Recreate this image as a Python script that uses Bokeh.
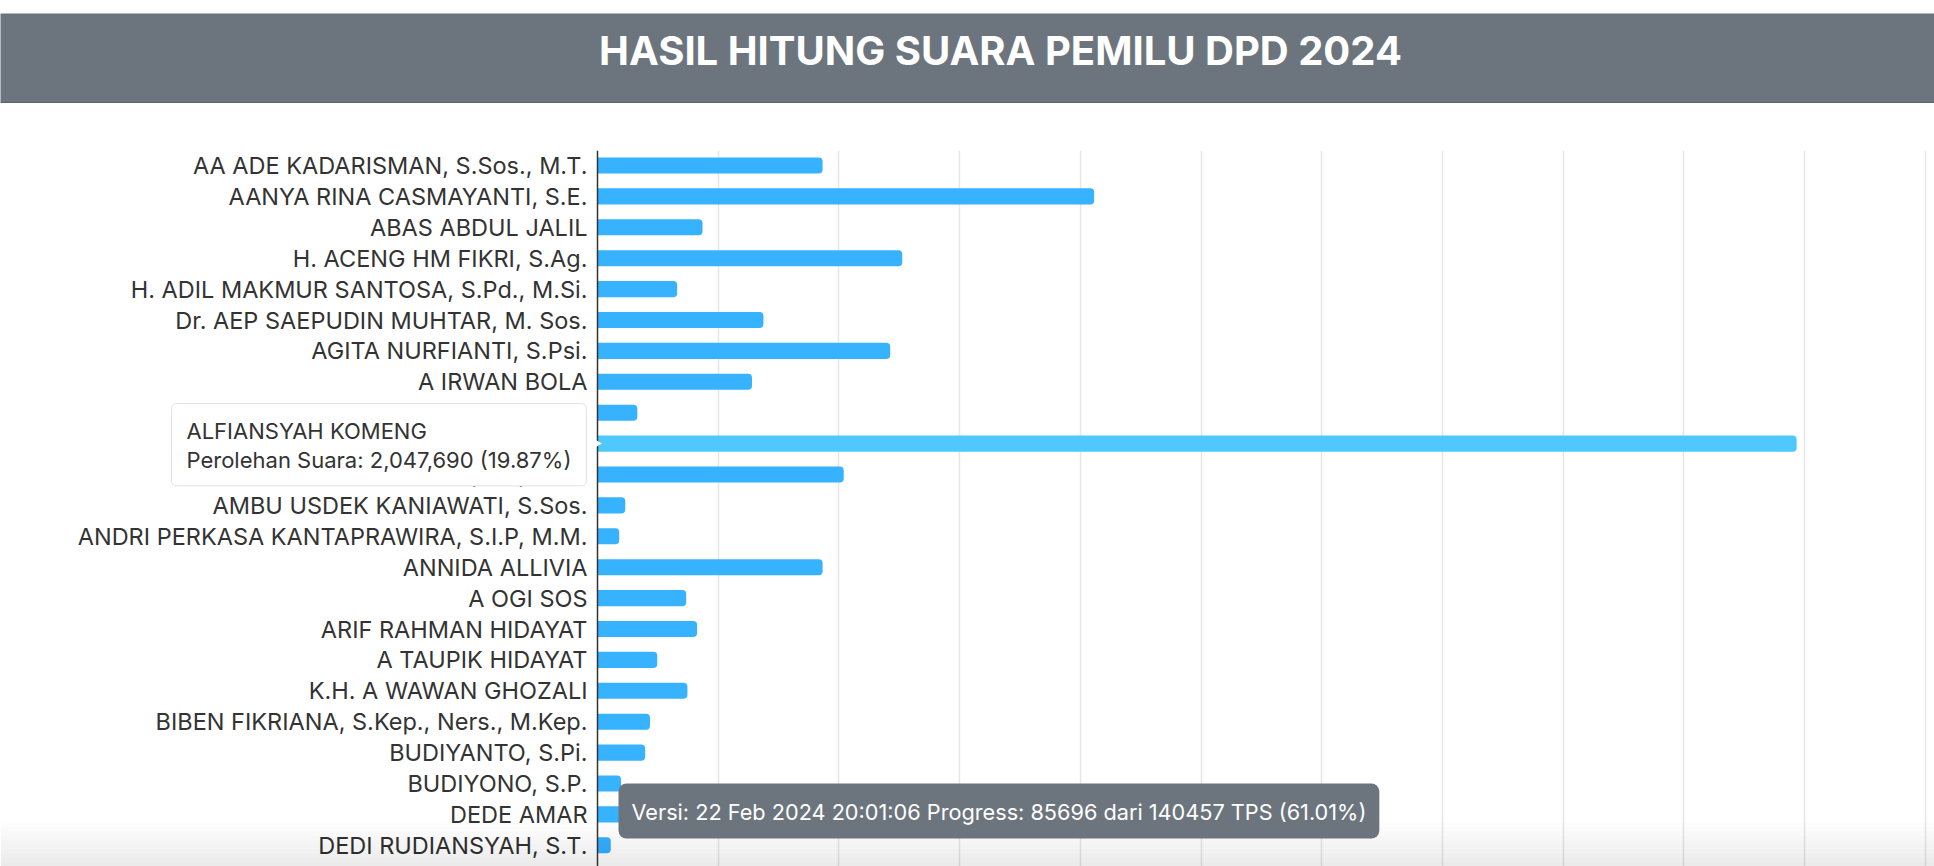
from bokeh.plotting import figure
from bokeh.models import Range1d, FixedTicker, Label, ColumnDataSource, Span, Spacer
from bokeh.layouts import column
from bokeh.core.properties import value
from bokeh.embed import file_html
from bokeh.resources import INLINE
import math

# ---------------- data ----------------
candidates = [
    "AA ADE KADARISMAN, S.Sos., M.T.",
    "AANYA RINA CASMAYANTI, S.E.",
    "ABAS ABDUL JALIL",
    "H. ACENG HM FIKRI, S.Ag.",
    "H. ADIL MAKMUR SANTOSA, S.Pd., M.Si.",
    "Dr. AEP SAEPUDIN MUHTAR, M. Sos.",
    "AGITA NURFIANTI, S.Psi.",
    "A IRWAN BOLA",
    "",
    "ALFIANSYAH KOMENG",
    "H. AMANG SYAFRUDIN, Lc., M.Si.",
    "AMBU USDEK KANIAWATI, S.Sos.",
    "ANDRI PERKASA KANTAPRAWIRA, S.I.P, M.M.",
    "ANNIDA ALLIVIA",
    "A OGI SOS",
    "ARIF RAHMAN HIDAYAT",
    "A TAUPIK HIDAYAT",
    "K.H. A WAWAN GHOZALI",
    "BIBEN FIKRIANA, S.Kep., Ners., M.Kep.",
    "BUDIYANTO, S.Pi.",
    "BUDIYONO, S.P.",
    "DEDE AMAR",
    "DEDI RUDIANSYAH, S.T.",
]
share_pct = [3.73, 8.23, 1.74, 5.05, 1.32, 2.75, 4.85, 2.56, 0.66, 19.87, 4.08,
             0.46, 0.36, 3.73, 1.47, 1.65, 0.99, 1.49, 0.87, 0.79, 0.39, 0.50, 0.22]
grid_ticks = [2, 4, 6, 8, 10, 12, 14, 16, 18, 20, 22]

title_text = "HASIL HITUNG SUARA PEMILU DPD 2024"
hover_name = "ALFIANSYAH KOMENG"
hover_votes = "2,047,690"
hover_pct = "19.87%"
version_text = "Versi: 22 Feb 2024 20:01:06 Progress: 85696 dari 140457 TPS (61.01%)"

# ---------------- style ----------------
W, H = 1934, 866
FONT = "Inter"
BAR = "#37b2fe"
BAR_HOVER = "#4fc8fd"
HEADER = "#6c757d"
TEXT = "#333333"

# page-pixel geometry of the chart area
AX_X = 597        # x of the value 0
PXX = 60.35       # px per percent
ROW0 = 165        # centre of first row
PXY = 30.9        # px per row
TOP = 150         # top of plotting area


def dx(px):
    return (px - AX_X) / PXX


def dy(py):
    return (py - ROW0) / PXY


# ---------------- header ----------------
h = figure(width=W, height=90, x_range=Range1d(0, W), y_range=Range1d(0, 90),
           output_backend="svg", toolbar_location=None, min_border=0)
h.axis.visible = False
h.grid.visible = False
h.outline_line_color = None
h.background_fill_color = HEADER
h.border_fill_color = HEADER
h.add_layout(Span(location=0.5, dimension="width", line_color="#555b61", line_width=1.5))
h.add_layout(Label(x=1000, y=53, text=title_text, text_align="center",
                   text_baseline="middle", text_color="white",
                   text_font=FONT, text_font_style="bold", text_font_size="40px"))

# ---------------- chart ----------------
n = len(candidates)
idx = list(range(n))
colors = [BAR_HOVER if c == hover_name else BAR for c in candidates]
src = ColumnDataSource(dict(idx=idx, pct=share_pct, color=colors, name=candidates))

p = figure(width=W, height=H - TOP, x_range=Range1d(dx(0), dx(W)),
           y_range=Range1d(dy(H), dy(TOP)),
           output_backend="svg", toolbar_location=None, min_border=0)
p.outline_line_color = None
p.axis.visible = False
p.xgrid.ticker = FixedTicker(ticks=grid_ticks)
p.xgrid.grid_line_color = "#e6e6e6"
p.xgrid.grid_line_width = 1.5
p.ygrid.visible = False

p.hbar(y="idx", left=0, right="pct", height=0.52, source=src, fill_color="color",
       line_color=None, border_radius=(0, 4, 4, 0))

# category labels (y axis)
p.text(x=dx(587), y="idx", text="name", source=src, text_align="right",
       text_baseline="middle", text_font=value(FONT), text_font_size="23.5px",
       text_color=TEXT)

# axis line at zero
p.add_layout(Span(location=0, dimension="height", line_color="#333333", line_width=1.5))

# tooltip arrow
hi = candidates.index(hover_name)
p.scatter(x=[dx(594)], y=[hi], marker="triangle", size=13, angle=-math.pi / 2,
          fill_color="white", line_color=None, level="overlay")

# bottom shadow gradient
for k in range(10):
    p.quad(left=dx(0), right=dx(W), top=dy(822 + 4.4 * k), bottom=dy(H),
           fill_color="black", fill_alpha=0.009, line_color=None)

tip_text = f"{hover_name}\nPerolehan Suara: {hover_votes} ({hover_pct})"
pad = dict(left=15, right=15, top=14, bottom=13)
shadow = Label(x=dx(171), y=dy(403), text=tip_text, anchor="top_left",
               x_offset=1, y_offset=-3,
               text_font=FONT, text_font_size="22px", text_line_height=1.13,
               text_alpha=0, background_fill_color="black", background_fill_alpha=0.16,
               padding=pad, border_radius=5)
tip = Label(x=dx(171), y=dy(403), text=tip_text, anchor="top_left",
            text_font=FONT, text_font_size="22px", text_line_height=1.13, text_color=TEXT,
            background_fill_color="white", border_line_color="#e2e2e2",
            padding=pad, border_radius=5)
p.add_layout(shadow)
p.add_layout(tip)

ver = Label(x=dx(618), y=dy(783), text=version_text, anchor="top_left",
            text_font=FONT, text_font_size="21.7px", text_color="white",
            background_fill_color=HEADER,
            padding=dict(left=13, right=13, top=15, bottom=14), border_radius=8)
p.add_layout(ver)

layout = column(Spacer(width=W, height=13), h, Spacer(width=W, height=TOP - 103), p,
                spacing=0)
open("out.html", "w").write(file_html(layout, INLINE))
